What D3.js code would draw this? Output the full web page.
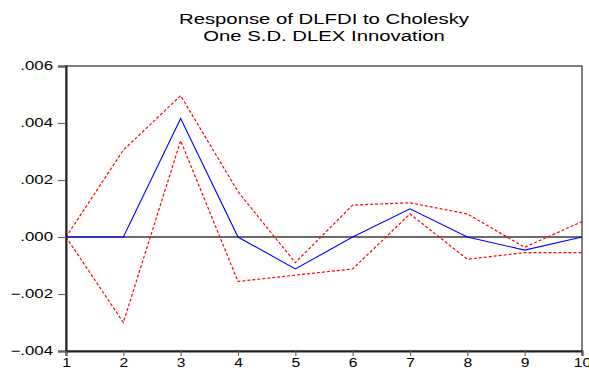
<!DOCTYPE html>
<html>
<head>
<meta charset="utf-8">
<script src="https://cdn.jsdelivr.net/npm/d3@7"></script>
<style>
  body { margin: 0; background: #fff; }
  svg { display: block; font-family: "Liberation Sans", Arial, sans-serif; }
</style>
</head>
<body>
<svg id="chart"></svg>
<script>
// periods on the x axis
const periods = [1, 2, 3, 4, 5, 6, 7, 8, 9, 10];
// impulse response and +/- 2 S.E. bands
const response = [0, 0, 0.00416, 0, -0.00112, 0, 0.00099, 0, -0.00046, 0];
const upperBand = [0, 0.00305, 0.00496, 0.00159, -0.0009, 0.00112, 0.0012, 0.00081, -0.00036, 0.00054];
const lowerBand = [0, -0.003, 0.00338, -0.00156, -0.00134, -0.00112, 0.00081, -0.00078, -0.00055, -0.00055];
const yTicks = [-0.004, -0.002, 0, 0.002, 0.004, 0.006];
const titleLines = ["Response of DLFDI to Cholesky", "One S.D. DLEX Innovation"];

const width = 589, height = 371;
const margin = { top: 66, right: 7, bottom: 20, left: 66 };

const svg = d3.select("#chart")
    .attr("width", width)
    .attr("height", height);

const xScale = d3.scaleLinear()
    .domain([1, 10])
    .range([margin.left, width - margin.right]);
const yScale = d3.scaleLinear()
    .domain([-0.004, 0.006])
    .range([height - margin.bottom, margin.top]);

// widen text horizontally, the source image is stretched
function stretch(sel, factor) {
    sel.each(function() {
        let w = this.getComputedTextLength();
        d3.select(this)
            .attr("textLength", w * factor)
            .attr("lengthAdjust", "spacingAndGlyphs");
    });
}

// title
svg.selectAll(".title")
    .data(titleLines)
    .enter().append("text")
    .attr("class", "title")
    .attr("x", (xScale(1) + xScale(10)) / 2)
    .attr("y", (d, i) => 24 + i * 17)
    .attr("text-anchor", "middle")
    .style("font-size", "15.5px")
    .style("fill", "#000")
    .text(d => d)
    .call(stretch, 1.31);

// frame: top and right thin
svg.append("rect")
    .attr("x", xScale(1))
    .attr("y", yScale(0.006))
    .attr("width", xScale(10) - xScale(1))
    .attr("height", yScale(-0.004) - yScale(0.006))
    .attr("fill", "none")
    .attr("stroke", "#000")
    .attr("stroke-width", 1);

// zero line
svg.append("line")
    .attr("x1", xScale(1))
    .attr("x2", xScale(10))
    .attr("y1", yScale(0))
    .attr("y2", yScale(0))
    .attr("stroke", "#3a3a3a")
    .attr("stroke-width", 1.3);

let line = d3.line()
    .x((d, i) => xScale(periods[i]))
    .y(d => yScale(d));

[upperBand, lowerBand].forEach(band => {
    svg.append("path")
        .datum(band)
        .attr("d", line)
        .attr("fill", "none")
        .attr("stroke", "#ff0000")
        .attr("stroke-width", 1.2)
        .attr("stroke-dasharray", "3,2");
});

svg.append("path")
    .datum(response)
    .attr("d", line)
    .attr("fill", "none")
    .attr("stroke", "#0000ff")
    .attr("stroke-width", 1.1);

// axes
let yAxis = d3.axisLeft(yScale)
    .tickValues(yTicks)
    .tickSize(8)
    .tickPadding(5)
    .tickFormat(d => d3.format(".3f")(d).replace("0.", "."));
let xAxis = d3.axisBottom(xScale)
    .tickValues(periods)
    .tickSize(5)
    .tickPadding(2)
    .tickFormat(d3.format("d"));

let gy = svg.append("g")
    .attr("transform", `translate(${xScale(1)}, 0)`)
    .call(yAxis);
let gx = svg.append("g")
    .attr("transform", `translate(0, ${yScale(-0.004)})`)
    .call(xAxis);

[gx, gy].forEach(g => {
    g.select(".domain").attr("stroke", "#222").attr("stroke-width", 2);
    g.selectAll(".tick line").attr("stroke", "#666").attr("stroke-width", 1.2);
    g.selectAll("text")
        .style("fill", "#000")
        .style("font-size", "12px")
        .style("font-family", "Liberation Sans, Arial, sans-serif");
});
gy.selectAll("text").call(stretch, 1.4);
gx.selectAll("text").call(stretch, 1.3);
</script>
</body>
</html>
